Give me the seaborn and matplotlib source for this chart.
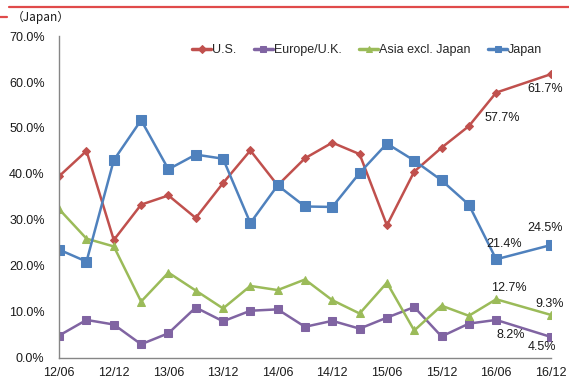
import matplotlib
matplotlib.use("Agg")
import matplotlib.pyplot as plt
from matplotlib.lines import Line2D
import seaborn as sns
import pandas as pd

# Quarter positions (0 = 2012/06); the 2016/09 quarter has no observation
quarters = [0, 1, 2, 3, 4, 5, 6, 7, 8, 9, 10, 11, 12, 13, 14, 15, 16, 18]
tick_pos = [0, 2, 4, 6, 8, 10, 12, 14, 16, 18]
tick_labels = ["12/06", "12/12", "13/06", "13/12", "14/06",
               "14/12", "15/06", "15/12", "16/06", "16/12"]

us = [39.5, 45.0, 25.6, 33.3, 35.3, 30.4, 38.0, 45.1, 37.5,
      43.4, 46.8, 44.3, 28.8, 40.5, 45.7, 50.4, 57.7, 61.7]
europe_uk = [4.8, 8.2, 7.2, 2.9, 5.3, 10.9, 7.9, 10.2, 10.5,
             6.7, 8.0, 6.3, 8.7, 11.0, 4.6, 7.4, 8.2, 4.5]
asia_ex_japan = [32.3, 25.9, 24.2, 12.2, 18.5, 14.6, 10.7, 15.6, 14.7,
                 17.0, 12.5, 9.6, 16.3, 5.9, 11.3, 9.1, 12.7, 9.3]
japan = [23.5, 20.9, 43.0, 51.7, 41.0, 44.2, 43.3, 29.3, 37.5,
         32.9, 32.8, 40.2, 46.6, 42.9, 38.6, 33.3, 21.4, 24.5]

series_names = ["U.S.", "Europe/U.K.", "Asia excl. Japan", "Japan"]
series_values = [us, europe_uk, asia_ex_japan, japan]
colors = ["#C0504D", "#8064A2", "#9BBB59", "#4F81BD"]
markers = ["D", "s", "^", "s"]
marker_sizes = [4.5, 5.5, 6.0, 6.5]

sns.set_style("white")
plt.rcParams["font.family"] = ["Liberation Sans", "DejaVu Sans"]

fig = plt.figure(figsize=(5.69, 3.80), dpi=100)
ax = fig.add_axes([0.104, 0.059, 0.864, 0.846])

for name, vals, col, mk, ms in zip(series_names, series_values, colors,
                                   markers, marker_sizes):
    df = pd.DataFrame({"q": quarters, "v": vals})
    sns.lineplot(data=df, x="q", y="v", ax=ax, color=col, marker=mk,
                 markersize=ms, markeredgecolor=col, linewidth=1.8,
                 label=name)

# value annotations for the latest two observations
notes = [
    (us, 16, (6, -25)), (us, 17, (-6, -15)),
    (japan, 16, (8, 15)), (japan, 17, (-6, 17)),
    (asia_ex_japan, 16, (13, 11)), (asia_ex_japan, 17, (-1, 11)),
    (europe_uk, 16, (15, -15)), (europe_uk, 17, (-9, -10)),
]
for vals, i, off in notes:
    ax.annotate(f"{vals[i]:.1f}%", (quarters[i], vals[i]), xytext=off,
                textcoords="offset pixels", ha="center", va="center",
                fontsize=9, color="#1a1a1a")

ax.set_xlim(0, 18)
ax.set_ylim(0, 70)
ax.set_xticks(tick_pos)
ax.set_xticklabels(tick_labels)
ax.set_yticks(range(0, 71, 10))
ax.set_yticklabels([f"{v:.1f}%" for v in range(0, 71, 10)])
ax.set_xlabel("")
ax.set_ylabel("")

axis_color = "#868686"
for side in ["top", "right"]:
    ax.spines[side].set_visible(False)
for side in ["left", "bottom"]:
    ax.spines[side].set_color(axis_color)
    ax.spines[side].set_linewidth(1.0)
ax.tick_params(axis="both", which="major", direction="out", length=4.5,
               width=1.0, color=axis_color, labelsize=9, labelcolor="#1a1a1a")
ax.tick_params(axis="y", pad=6)
ax.tick_params(axis="x", pad=2)
ax.grid(False)

leg = ax.legend(loc="center", bbox_to_anchor=(0.627, 0.956), ncol=4,
                frameon=False, fontsize=9, handlelength=1.5,
                handletextpad=0.1, columnspacing=1.4, borderaxespad=0)
for h in leg.legend_handles:
    h.set_markersize(4)
    h.set_linewidth(2.5)

# header rule and unit label
fig.add_artist(Line2D([9 / 569, 1.0], [1 - 7 / 380] * 2, color="#E04A4A",
                      linewidth=1.6))
fig.add_artist(Line2D([0, 7 / 569], [1 - 17 / 380] * 2, color="#E04A4A",
                      linewidth=1.6))
fig.text(12 / 569, 1 - 17.5 / 380, "（Japan）", fontsize=8.5, va="center",
         ha="left", color="#1a1a1a",
         family=["Noto Sans CJK JP", "DejaVu Sans"])

fig.savefig("out.png", dpi=100)
